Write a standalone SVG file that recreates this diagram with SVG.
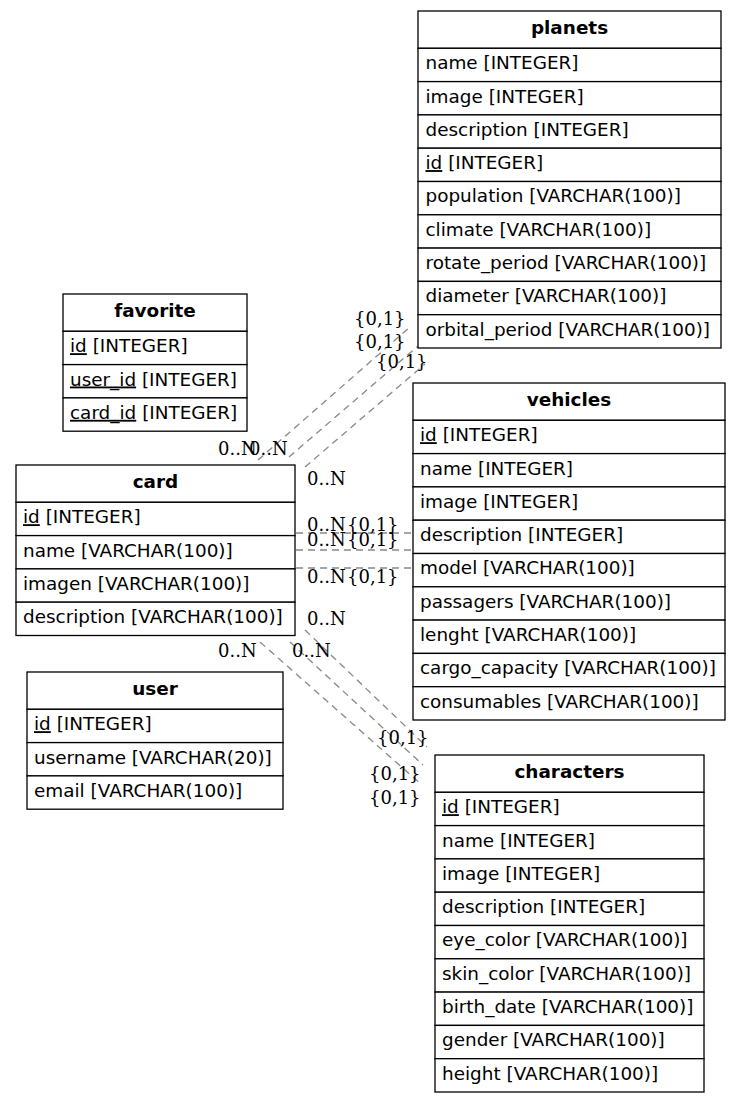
<svg xmlns="http://www.w3.org/2000/svg" width="741" height="1103" viewBox="0 0 741 1103">
<style>
.bg{fill:#fff}
.cell{fill:#fff;stroke:#000;stroke-width:1.3}
.h{font-family:"DejaVu Sans",sans-serif;font-size:18.4px;font-weight:bold;text-anchor:middle;fill:#000}
.t{font-family:"DejaVu Sans",sans-serif;font-size:18.4px;fill:#000}
.u{text-decoration:underline}
.e{fill:none;stroke:#888;stroke-width:1.3;stroke-dasharray:7,5}
.l{font-family:"DejaVu Serif",serif;font-size:18px;fill:#000}
</style>
<rect class="bg" x="0" y="0" width="741" height="1103"/>
<g id="connectors">
<line class="e" x1="258" y1="460" x2="410" y2="327"/>
<line class="e" x1="289" y1="457" x2="418" y2="346"/>
<line class="e" x1="305" y1="467" x2="425" y2="364"/>
<line class="e" x1="296" y1="533" x2="413" y2="533"/>
<line class="e" x1="296" y1="550" x2="413" y2="550"/>
<line class="e" x1="296" y1="568" x2="413" y2="568"/>
<line class="e" x1="260" y1="642" x2="422" y2="785"/>
<line class="e" x1="290" y1="642" x2="423" y2="765"/>
<line class="e" x1="305" y1="630" x2="427" y2="747"/>
<text class="l" x="354" y="325">{0,1}</text>
<text class="l" x="354" y="348">{0,1}</text>
<text class="l" x="376" y="368">{0,1}</text>
<text class="l" x="218" y="455">0..N</text>
<text class="l" x="249" y="455">0..N</text>
<text class="l" x="307" y="485">0..N</text>
<text class="l" x="307" y="531">0..N</text>
<text class="l" x="347" y="531">{0,1}</text>
<text class="l" x="307" y="546">0..N</text>
<text class="l" x="347" y="546">{0,1}</text>
<text class="l" x="307" y="583">0..N</text>
<text class="l" x="347" y="583">{0,1}</text>
<text class="l" x="307" y="625">0..N</text>
<text class="l" x="218" y="657">0..N</text>
<text class="l" x="292" y="657">0..N</text>
<text class="l" x="377" y="744">{0,1}</text>
<text class="l" x="369" y="780">{0,1}</text>
<text class="l" x="369" y="804">{0,1}</text>
</g>
<g id="planets">
<rect class="cell" x="418" y="11" width="303" height="37.3"/>
<rect class="cell" x="418" y="48.3" width="303" height="33.3"/>
<rect class="cell" x="418" y="81.6" width="303" height="33.3"/>
<rect class="cell" x="418" y="114.9" width="303" height="33.3"/>
<rect class="cell" x="418" y="148.2" width="303" height="33.3"/>
<rect class="cell" x="418" y="181.5" width="303" height="33.3"/>
<rect class="cell" x="418" y="214.8" width="303" height="33.3"/>
<rect class="cell" x="418" y="248.1" width="303" height="33.3"/>
<rect class="cell" x="418" y="281.4" width="303" height="33.3"/>
<rect class="cell" x="418" y="314.7" width="303" height="33.3"/>
<text class="h" x="569.5" y="34">planets</text>
<text class="t" x="425.5" y="69.2">name [INTEGER]</text>
<text class="t" x="425.5" y="102.5">image [INTEGER]</text>
<text class="t" x="425.5" y="135.8">description [INTEGER]</text>
<text class="t" x="425.5" y="169.1"><tspan class="u">id</tspan> [INTEGER]</text>
<text class="t" x="425.5" y="202.4">population [VARCHAR(100)]</text>
<text class="t" x="425.5" y="235.7">climate [VARCHAR(100)]</text>
<text class="t" x="425.5" y="269">rotate_period [VARCHAR(100)]</text>
<text class="t" x="425.5" y="302.3">diameter [VARCHAR(100)]</text>
<text class="t" x="425.5" y="335.6">orbital_period [VARCHAR(100)]</text>
</g>
<g id="vehicles">
<rect class="cell" x="413" y="383" width="312" height="37.3"/>
<rect class="cell" x="413" y="420.3" width="312" height="33.3"/>
<rect class="cell" x="413" y="453.6" width="312" height="33.3"/>
<rect class="cell" x="413" y="486.9" width="312" height="33.3"/>
<rect class="cell" x="413" y="520.2" width="312" height="33.3"/>
<rect class="cell" x="413" y="553.5" width="312" height="33.3"/>
<rect class="cell" x="413" y="586.8" width="312" height="33.3"/>
<rect class="cell" x="413" y="620.1" width="312" height="33.3"/>
<rect class="cell" x="413" y="653.4" width="312" height="33.3"/>
<rect class="cell" x="413" y="686.7" width="312" height="33.3"/>
<text class="h" x="569" y="406">vehicles</text>
<text class="t" x="420" y="441.2"><tspan class="u">id</tspan> [INTEGER]</text>
<text class="t" x="420" y="474.5">name [INTEGER]</text>
<text class="t" x="420" y="507.8">image [INTEGER]</text>
<text class="t" x="420" y="541.1">description [INTEGER]</text>
<text class="t" x="420" y="574.4">model [VARCHAR(100)]</text>
<text class="t" x="420" y="607.7">passagers [VARCHAR(100)]</text>
<text class="t" x="420" y="641">lenght [VARCHAR(100)]</text>
<text class="t" x="420" y="674.3">cargo_capacity [VARCHAR(100)]</text>
<text class="t" x="420" y="707.6">consumables [VARCHAR(100)]</text>
</g>
<g id="characters">
<rect class="cell" x="435" y="755" width="269" height="37.3"/>
<rect class="cell" x="435" y="792.3" width="269" height="33.3"/>
<rect class="cell" x="435" y="825.6" width="269" height="33.3"/>
<rect class="cell" x="435" y="858.9" width="269" height="33.3"/>
<rect class="cell" x="435" y="892.2" width="269" height="33.3"/>
<rect class="cell" x="435" y="925.5" width="269" height="33.3"/>
<rect class="cell" x="435" y="958.8" width="269" height="33.3"/>
<rect class="cell" x="435" y="992.1" width="269" height="33.3"/>
<rect class="cell" x="435" y="1025.4" width="269" height="33.3"/>
<rect class="cell" x="435" y="1058.7" width="269" height="33.3"/>
<text class="h" x="569.5" y="778">characters</text>
<text class="t" x="442" y="813.2"><tspan class="u">id</tspan> [INTEGER]</text>
<text class="t" x="442" y="846.5">name [INTEGER]</text>
<text class="t" x="442" y="879.8">image [INTEGER]</text>
<text class="t" x="442" y="913.1">description [INTEGER]</text>
<text class="t" x="442" y="946.4">eye_color [VARCHAR(100)]</text>
<text class="t" x="442" y="979.7">skin_color [VARCHAR(100)]</text>
<text class="t" x="442" y="1013">birth_date [VARCHAR(100)]</text>
<text class="t" x="442" y="1046.3">gender [VARCHAR(100)]</text>
<text class="t" x="442" y="1079.6">height [VARCHAR(100)]</text>
</g>
<g id="favorite">
<rect class="cell" x="63" y="294" width="184" height="37.3"/>
<rect class="cell" x="63" y="331.3" width="184" height="33.3"/>
<rect class="cell" x="63" y="364.6" width="184" height="33.3"/>
<rect class="cell" x="63" y="397.9" width="184" height="33.3"/>
<text class="h" x="155" y="317">favorite</text>
<text class="t" x="70" y="352.2"><tspan class="u">id</tspan> [INTEGER]</text>
<text class="t" x="70" y="385.5"><tspan class="u">user_id</tspan> [INTEGER]</text>
<text class="t" x="70" y="418.8"><tspan class="u">card_id</tspan> [INTEGER]</text>
</g>
<g id="card">
<rect class="cell" x="16" y="465" width="279" height="37.3"/>
<rect class="cell" x="16" y="502.3" width="279" height="33.3"/>
<rect class="cell" x="16" y="535.6" width="279" height="33.3"/>
<rect class="cell" x="16" y="568.9" width="279" height="33.3"/>
<rect class="cell" x="16" y="602.2" width="279" height="33.3"/>
<text class="h" x="155.5" y="488">card</text>
<text class="t" x="23" y="523.2"><tspan class="u">id</tspan> [INTEGER]</text>
<text class="t" x="23" y="556.5">name [VARCHAR(100)]</text>
<text class="t" x="23" y="589.8">imagen [VARCHAR(100)]</text>
<text class="t" x="23" y="623.1">description [VARCHAR(100)]</text>
</g>
<g id="user">
<rect class="cell" x="27" y="672" width="256" height="37.3"/>
<rect class="cell" x="27" y="709.3" width="256" height="33.3"/>
<rect class="cell" x="27" y="742.6" width="256" height="33.3"/>
<rect class="cell" x="27" y="775.9" width="256" height="33.3"/>
<text class="h" x="155" y="695">user</text>
<text class="t" x="34" y="730.2"><tspan class="u">id</tspan> [INTEGER]</text>
<text class="t" x="34" y="763.5">username [VARCHAR(20)]</text>
<text class="t" x="34" y="796.8">email [VARCHAR(100)]</text>
</g>
</svg>
